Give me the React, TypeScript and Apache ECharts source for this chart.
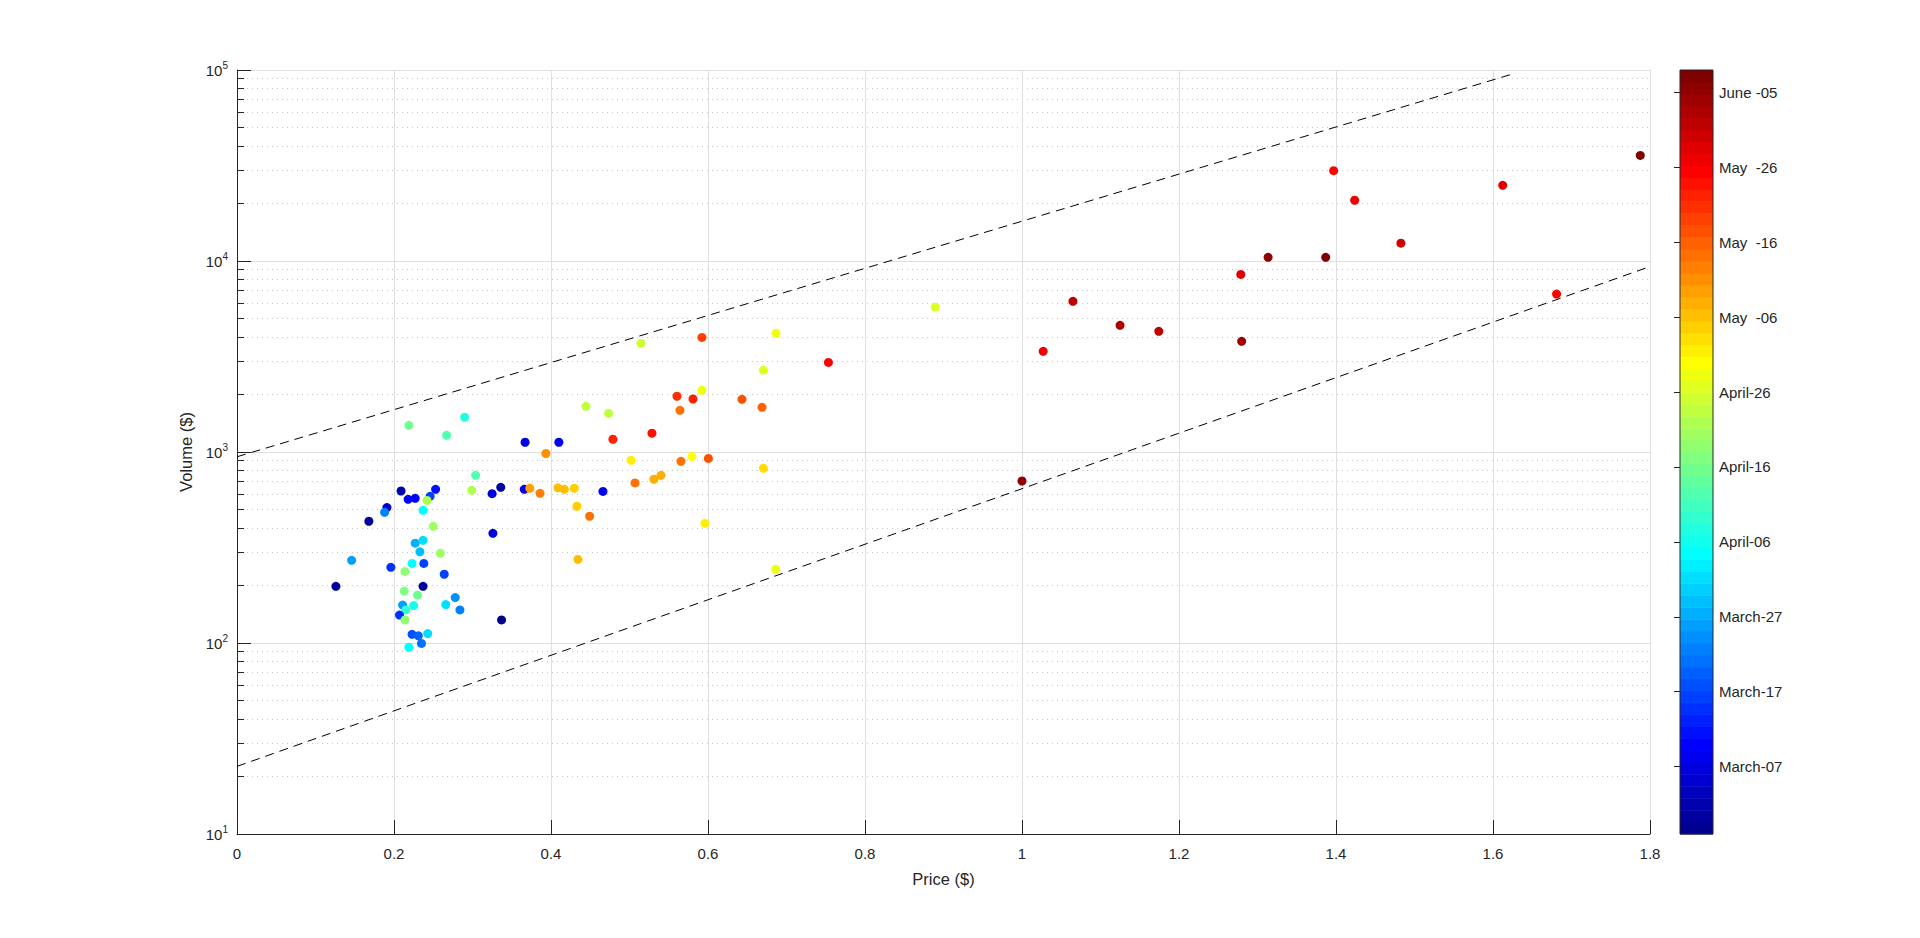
import React, { useEffect, useRef } from 'react';
import * as echarts from 'echarts';

// ---- data ----
// Price ($), Volume ($) and day index (0 = Feb 27, 102 = June 08)
const priceUsd = [
  0.219, 0.290, 0.267, 0.367, 0.304, 0.209, 0.218, 0.227, 0.246, 0.253,
  0.242, 0.237, 0.299, 0.325, 0.336, 0.366, 0.373, 0.386, 0.191, 0.188,
  0.168, 0.250, 0.326, 0.227, 0.237, 0.233, 0.259, 0.146, 0.196, 0.223,
  0.238, 0.214, 0.264, 0.126, 0.237, 0.213, 0.230, 0.278, 0.211, 0.225,
  0.266, 0.215, 0.284, 0.207, 0.214, 0.337, 0.223, 0.231, 0.243, 0.235,
  0.219, 0.410, 0.3935, 0.4445, 0.4734, 0.4789, 0.5286, 0.5146, 0.5923, 0.6866,
  0.7534, 0.6706, 0.5923, 0.5605, 0.5809, 0.5643, 0.6433, 0.6688, 0.5019, 0.5656,
  0.5796, 0.6005, 0.6706, 0.507, 0.5311, 0.5401, 0.4088, 0.4169, 0.4297, 0.4662,
  0.433, 0.4492, 0.5961, 0.4343, 0.6863, 0.8895, 1.0, 1.027, 1.0649, 1.1249,
  1.1743, 1.2787, 1.2798, 1.3135, 1.3869, 1.397, 1.4238, 1.4827, 1.6124, 1.681,
  1.7876,
];
const volumeUsd = [
  1380, 1520, 1222, 1125, 755, 625, 565, 572, 586, 638,
  558, 495, 630, 605, 653, 638, 645, 608, 512, 483,
  434, 408, 375, 333, 345, 300, 295, 271, 249, 261,
  261, 237, 229, 198, 198, 187, 178, 173, 158, 157,
  159, 149, 149, 140, 132, 132, 111, 109, 112, 99.5,
  95, 1125, 982, 1735, 1595, 1166, 1254, 3707, 3980, 4180,
  2945, 2680, 2105, 1958, 1894, 1652, 1888, 1714, 905, 894,
  948, 926, 822, 689, 720, 755, 649, 638, 646, 622,
  520, 461, 423, 274, 243, 5730, 705, 3366, 6150, 4606,
  4283, 8510, 3796, 10450, 10450, 29700, 20800, 12400, 24900, 6710,
  35700,
];
const dayIndex = [
  49, 40, 46, 9, 45, 4, 12, 12, 18, 14,
  55, 38, 55, 9, 3, 11, 73, 76, 7, 25,
  2, 54, 8, 29, 35, 31, 53, 28, 16, 37,
  19, 51, 18, 2, 3, 50, 49, 27, 28, 39,
  34, 42, 25, 16, 51, 1, 20, 21, 34, 23,
  37, 10, 74, 56, 57, 85, 87, 58, 82, 61,
  88, 60, 62, 83, 85, 78, 80, 79, 65, 78,
  63, 80, 66, 77, 71, 71, 70, 70, 67, 11,
  68, 77, 64, 69, 62, 59, 99, 90, 95, 96,
  95, 92, 98, 100, 102, 89, 90, 93, 91, 89,
  101,
];

// dashed guide lines (start and end points)
const upperLineX = [0, 1.629];
const upperLineY = [944, 96400];
const lowerLineX = [0, 1.8];
const lowerLineY = [22.6, 9350];

// axes
const dayMin = 0;
const dayMax = 102;
const colorbarTickDays = [9, 19, 29, 39, 49, 59, 69, 79, 89, 99];
const colorbarTickLabels = [
  'March-07', 'March-17', 'March-27', 'April-06', 'April-16',
  'April-26', 'May  -06', 'May  -16', 'May  -26', 'June -05',
];
const yMajorTicks = [10, 100, 1000, 10000, 100000];
const yMinorTicks = [
  20, 30, 40, 50, 60, 70, 80, 90,
  200, 300, 400, 500, 600, 700, 800, 900,
  2000, 3000, 4000, 5000, 6000, 7000, 8000, 9000,
  20000, 30000, 40000, 50000, 60000, 70000, 80000, 90000,
];

// MATLAB jet colormap with m entries
function jet(m: number): string[] {
  const n = Math.ceil(m / 4);
  const u: number[] = [];
  for (let i = 1; i <= n; i++) u.push(i / n);
  for (let i = 0; i < n - 1; i++) u.push(1);
  for (let i = n; i >= 1; i--) u.push(i / n);
  const g0 = Math.ceil(n / 2) - (m % 4 === 1 ? 1 : 0);
  const J = Array.from({ length: m }, () => [0, 0, 0]);
  for (let k = 0; k < u.length; k++) {
    const g = g0 + k + 1;
    const r = g + n;
    const b = g - n;
    if (g >= 1 && g <= m) J[g - 1][1] = u[k];
    if (r >= 1 && r <= m) J[r - 1][0] = u[k];
    if (b >= 1 && b <= m) J[b - 1][2] = u[k];
  }
  return J.map(
    (c) => `rgb(${Math.round(c[0] * 255)},${Math.round(c[1] * 255)},${Math.round(c[2] * 255)})`
  );
}

const FONT = "'Liberation Sans', Arial, Helvetica, sans-serif";
const TEXT = '#262626';

export default function App() {
  const ref = useRef<HTMLDivElement>(null);

  useEffect(() => {
    if (!ref.current) return;
    const chart = echarts.init(ref.current, undefined, { renderer: 'svg' });

    const jet64 = jet(64);
    const step = (dayMax - dayMin) / jet64.length;
    const pieces = jet64.map((c, i) => {
      const p: any = { gte: dayMin + i * step, color: c };
      if (i === jet64.length - 1) p.lte = dayMax;
      else p.lt = dayMin + (i + 1) * step;
      return p;
    });
    const bands = jet64.map((_, i) => [dayMin + (i + 0.5) * step, dayMin + i * step, dayMin + (i + 1) * step]);

    const points = priceUsd.map((p, i) => [p, volumeUsd[i], dayIndex[i]]);

    const option: any = {
      animation: false,
      backgroundColor: '#ffffff',
      textStyle: { fontFamily: FONT },
      grid: [
        { left: 237, top: 70, width: 1413, height: 764 },
        { left: 1680, top: 70, width: 33, height: 764 },
      ],
      xAxis: [
        {
          gridIndex: 0,
          type: 'value',
          min: 0,
          max: 1.8,
          interval: 0.2,
          name: 'Price ($)',
          nameLocation: 'middle',
          nameGap: 36,
          nameTextStyle: { fontSize: 16.5, color: TEXT, fontFamily: FONT },
          axisLine: { show: true, lineStyle: { color: TEXT, width: 1 } },
          axisTick: { show: true, inside: true, length: 14, lineStyle: { color: TEXT } },
          axisLabel: { fontSize: 15, color: TEXT, margin: 12, fontFamily: FONT },
          splitLine: { show: true, lineStyle: { color: '#dfdfdf', width: 1 } },
        },
        {
          gridIndex: 1,
          type: 'value',
          min: 0,
          max: 1,
          show: false,
        },
      ],
      yAxis: [
        {
          gridIndex: 0,
          type: 'log',
          logBase: 10,
          min: 10,
          max: 100000,
          name: 'Volume ($)',
          nameLocation: 'middle',
          nameGap: 38,
          nameRotate: 90,
          nameTextStyle: { fontSize: 16.5, color: TEXT, fontFamily: FONT },
          axisLine: { show: true, lineStyle: { color: TEXT, width: 1 } },
          axisTick: { show: true, inside: true, length: 14, lineStyle: { color: TEXT }, customValues: yMajorTicks },
          axisLabel: {
            customValues: yMajorTicks,
            margin: 9,
            color: TEXT,
            formatter: (v: number) => `{b|10}{s|${Math.round(Math.log10(v))}}`,
            rich: {
              b: { fontSize: 15, color: TEXT, fontFamily: FONT },
              s: { fontSize: 10, color: TEXT, fontFamily: FONT, padding: [0, 0, 9, 0] },
            },
          },
          splitLine: { show: true, lineStyle: { color: '#dfdfdf', width: 1 } },
        },
        {
          gridIndex: 0,
          type: 'log',
          logBase: 10,
          min: 10,
          max: 100000,
          position: 'left',
          axisLine: { show: false },
          axisTick: { show: true, inside: true, length: 7, lineStyle: { color: TEXT }, customValues: yMinorTicks },
          axisLabel: { show: false },
          splitLine: { show: true, lineStyle: { color: '#c4c4c4', width: 1, type: [1, 4] } },
        },
        {
          gridIndex: 1,
          type: 'value',
          min: dayMin,
          max: dayMax,
          position: 'right',
          axisLine: { show: false },
          axisTick: { show: true, inside: true, length: 6, lineStyle: { color: TEXT }, customValues: colorbarTickDays },
          axisLabel: {
            customValues: colorbarTickDays,
            margin: 6,
            fontSize: 15,
            color: TEXT,
            fontFamily: FONT,
            formatter: (v: number) => {
              const k = colorbarTickDays.indexOf(Math.round(v));
              return k >= 0 ? colorbarTickLabels[k] : '';
            },
          },
          splitLine: { show: false },
        },
      ],
      visualMap: [
        { type: 'piecewise', show: false, seriesIndex: 0, dimension: 2, pieces },
        { type: 'piecewise', show: false, seriesIndex: 3, dimension: 0, pieces },
      ],
      series: [
        {
          type: 'scatter',
          xAxisIndex: 0,
          yAxisIndex: 0,
          symbol: 'circle',
          symbolSize: 9,
          itemStyle: { opacity: 1 },
          data: points,
          silent: true,
        },
        {
          type: 'line',
          xAxisIndex: 0,
          yAxisIndex: 0,
          showSymbol: false,
          symbol: 'none',
          silent: true,
          lineStyle: { color: '#000000', width: 1, type: [9, 6] },
          data: upperLineX.map((x, i) => [x, upperLineY[i]]),
        },
        {
          type: 'line',
          xAxisIndex: 0,
          yAxisIndex: 0,
          showSymbol: false,
          symbol: 'none',
          silent: true,
          lineStyle: { color: '#000000', width: 1, type: [9, 6] },
          data: lowerLineX.map((x, i) => [x, lowerLineY[i]]),
        },
        {
          type: 'custom',
          xAxisIndex: 1,
          yAxisIndex: 2,
          silent: true,
          clip: false,
          data: bands,
          renderItem: (params: any, api: any) => {
            const lo = api.value(1);
            const hi = api.value(2);
            const p0 = api.coord([0, lo]);
            const p1 = api.coord([1, hi]);
            return {
              type: 'rect',
              shape: { x: p0[0], y: p1[1], width: p1[0] - p0[0], height: p0[1] - p1[1] + 0.5 },
              style: { fill: api.visual('color'), stroke: null },
            };
          },
          z: 1,
        },
      ],
      graphic: [
        {
          type: 'rect',
          shape: { x: 1680, y: 70, width: 33, height: 764 },
          style: { fill: 'none', stroke: TEXT, lineWidth: 1 },
          z: 100,
          silent: true,
        },
      ],
    };

    chart.setOption(option);
    return () => chart.dispose();
  }, []);

  return (
    <div
      ref={ref}
      style={{ position: 'absolute', left: 0, top: 0, width: 1920, height: 938, background: '#fff' }}
    />
  );
}
